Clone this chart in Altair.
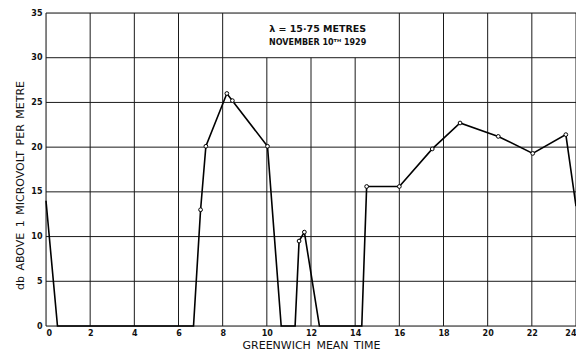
import altair as alt
import pandas as pd

# Measured field strength (db above 1 microvolt per metre) vs GMT hours
hours = [0.0, 0.52, 6.68, 7.0, 7.24, 8.19, 8.44, 10.03, 10.65, 11.28, 11.46, 11.7,
         12.38, 14.3, 14.52, 16.0, 17.49, 18.75, 20.48, 22.04, 23.54, 24.0]
values = [14.0, 0.0, 0.0, 13.0, 20.1, 26.0, 25.2, 20.1, 0.0, 0.0, 9.5, 10.5,
          0.0, 0.0, 15.6, 15.6, 19.8, 22.7, 21.2, 19.3, 21.4, 13.4]
observed = [False, False, False, True, True, True, True, True, False, False, True, True,
            False, False, True, True, True, True, True, True, True, False]

x_ticks = list(range(0, 25, 2))
y_ticks = list(range(0, 36, 5))

df = pd.DataFrame({"h": hours, "v": values, "obs": observed})
pts = df[df["obs"]]

# grid: vertical lines stop at 30 where the caption box sits (between 8 and 16 h)
vgrid = pd.DataFrame({"x": x_ticks,
                      "y0": [0] * len(x_ticks),
                      "y1": [30 if 8 < t < 16 else 35 for t in x_ticks]})
hgrid = pd.DataFrame({"y": y_ticks, "x0": [0] * len(y_ticks), "x1": [24] * len(y_ticks)})

FONT = "DejaVu Sans"
SP = "\u2002"
xs = alt.Scale(domain=[0, 24], nice=False)
ys = alt.Scale(domain=[0, 35], nice=False)

xaxis = alt.Axis(values=x_ticks, grid=False, ticks=False, domain=False,
                 title=SP.join(["GREENWICH", "MEAN", "TIME"]), labelFont=FONT, labelFontSize=8,
                 labelFontWeight="bold", labelColor="#111", labelPadding=3,
                 titleFont=FONT, titleFontSize=11, titleFontWeight="normal",
                 titleColor="#111", titlePadding=2)
yaxis = alt.Axis(values=y_ticks, grid=False, ticks=False, domain=False,
                 title=SP.join(["db", "ABOVE", "1", "MICROVOLT", "PER", "METRE"]),
                 labelFont=FONT, labelFontSize=8,
                 labelFontWeight="bold", labelColor="#111", labelPadding=4,
                 titleFont=FONT, titleFontSize=11, titleFontWeight="normal",
                 titleColor="#111", titlePadding=5, titleY=172)

vrules = alt.Chart(vgrid).mark_rule(color="#1a1a1a", strokeWidth=1).encode(
    x=alt.X("x:Q", scale=xs, axis=xaxis),
    y=alt.Y("y0:Q", scale=ys, axis=yaxis),
    y2="y1:Q",
)
hrules = alt.Chart(hgrid).mark_rule(color="#1a1a1a", strokeWidth=1).encode(
    x=alt.X("x0:Q", scale=xs), x2="x1:Q", y=alt.Y("y:Q", scale=ys)
)

line = alt.Chart(df).mark_line(color="black", strokeWidth=1.6).encode(
    x=alt.X("h:Q", scale=xs), y=alt.Y("v:Q", scale=ys), order="h:Q"
)
dots = alt.Chart(pts).mark_point(shape="circle", size=14, filled=True, fill="white",
                                  stroke="black", strokeWidth=1, opacity=1).encode(
    x=alt.X("h:Q", scale=xs), y=alt.Y("v:Q", scale=ys)
)

cap = pd.DataFrame({"x": [12.3, 12.3], "y": [33.2, 31.7],
                    "t": ["λ =  15·75  METRES", "NOVEMBER  10ᵀᴴ  1929"],
                    "s": [9.5, 8]})
caption = alt.Chart(cap).mark_text(font=FONT, color="#111", fontWeight="bold").encode(
    x=alt.X("x:Q", scale=xs), y=alt.Y("y:Q", scale=ys), text="t:N",
    size=alt.Size("s:Q", scale=None, legend=None)
)

chart = alt.layer(vrules, hrules, line, dots, caption).properties(
    width=530, height=313,
    autosize=alt.AutoSizeParams(type="none"),
    padding={"left": 38, "top": 5, "right": 0, "bottom": 26},
).configure_view(stroke=None).configure(background="white")

chart.save("out.html", embed_options={"renderer": "svg", "actions": False})
